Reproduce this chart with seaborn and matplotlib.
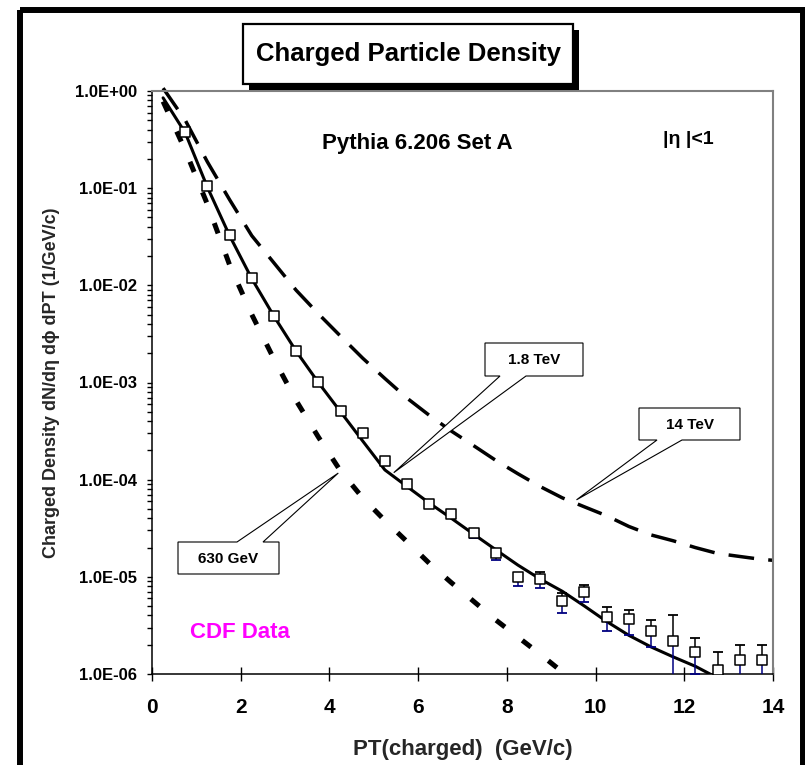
import numpy as np
import matplotlib
matplotlib.use("Agg")
import matplotlib.pyplot as plt
import seaborn as sns
import matplotlib.transforms as mtransforms
from matplotlib.patches import Rectangle, Polygon
from matplotlib.ticker import FuncFormatter, LogLocator, FixedLocator, NullFormatter

# ---------------- data ----------------
pt_data = [0.75, 1.25, 1.75, 2.25, 2.75, 3.25, 3.75, 4.25, 4.75, 5.25, 5.75, 6.25, 6.75,
           7.25, 7.75, 8.25, 8.75, 9.25, 9.75, 10.25, 10.75, 11.25, 11.75, 12.25, 12.75,
           13.25, 13.75]
dens_data = [0.38, 0.105, 0.033, 0.0118, 0.0048, 0.0021, 1.01e-3, 5.1e-4, 3.0e-4, 1.55e-4,
             9.1e-5, 5.6e-5, 4.4e-5, 2.8e-5, 1.75e-5, 1.0e-5, 9.5e-6, 5.6e-6, 7.0e-6,
             3.9e-6, 3.7e-6, 2.8e-6, 2.2e-6, 1.67e-6, 1.1e-6, 1.38e-6, 1.38e-6]
dens_hi = [0.40, 0.11, 0.0345, 0.0123, 0.0050, 0.0022, 1.06e-3, 5.4e-4, 3.15e-4, 1.63e-4,
           9.7e-5, 6.0e-5, 4.7e-5, 3.0e-5, 1.9e-5, 1.08e-5, 1.11e-5, 6.8e-6, 8.3e-6,
           4.9e-6, 4.6e-6, 3.6e-6, 4.0e-6, 2.35e-6, 1.7e-6, 2.0e-6, 2.0e-6]
dens_lo = [0.36, 0.10, 0.0315, 0.0113, 0.0046, 0.0020, 9.6e-4, 4.8e-4, 2.85e-4, 1.47e-4,
           8.5e-5, 5.1e-5, 4.0e-5, 2.5e-5, 1.5e-5, 8.1e-6, 7.7e-6, 4.2e-6, 5.5e-6,
           2.75e-6, 2.5e-6, 1.88e-6, 5e-7, 1.0e-6, 5e-7, 5e-7, 5e-7]

pt_curve = [0.25, 0.75, 1.25, 1.75, 2.25, 2.75, 3.25, 3.75, 4.25, 4.75, 5.25, 5.75, 6.25,
            6.75, 7.25, 7.75, 8.25, 8.75, 9.25, 9.75, 10.25, 10.75, 11.25, 11.75, 12.25,
            12.75, 13.25, 13.75, 14.0]
curve_18tev = [0.85, 0.37, 0.102, 0.0324, 0.0117, 0.0048, 0.0021, 1.0e-3, 5.0e-4, 2.5e-4,
               1.26e-4, 8.5e-5, 5.75e-5, 4.0e-5, 2.75e-5, 1.9e-5, 1.32e-5, 9.5e-6, 7.1e-6,
               5.0e-6, 3.47e-6, 2.5e-6, 1.9e-6, 1.5e-6, 1.2e-6, 9.1e-7]
curve_630gev = [0.78, 0.245, 0.068, 0.0162, 0.0050, 1.74e-3, 6.5e-4, 2.75e-4, 1.23e-4,
                6.5e-5, 3.8e-5, 2.3e-5, 1.38e-5, 8.7e-6, 5.6e-6, 3.6e-6, 2.4e-6, 1.6e-6,
                1.05e-6, 7.1e-7]
curve_14tev = [1.07, 0.50, 0.186, 0.076, 0.0324, 0.017, 8.9e-3, 5.1e-3, 3.0e-3, 1.78e-3,
               1.1e-3, 6.9e-4, 4.6e-4, 3.16e-4, 2.24e-4, 1.58e-4, 1.15e-4, 8.5e-5, 6.5e-5,
               5.25e-5, 4.25e-5, 3.3e-5, 2.7e-5, 2.35e-5, 2.0e-5, 1.74e-5, 1.62e-5, 1.51e-5,
               1.48e-5]

x_ticks = [0, 2, 4, 6, 8, 10, 12, 14]
y_ticks = [1e-6, 1e-5, 1e-4, 1e-3, 1e-2, 1e-1, 1e0]

# ---------------- figure ----------------
sns.set_theme(style="white")
plt.rcParams["font.family"] = ["Liberation Sans", "DejaVu Sans"]
plt.rcParams["font.weight"] = "bold"

W, H = 805, 765
fig = plt.figure(figsize=(W / 100, H / 100), dpi=100, facecolor="white")
L, R, T, B = 152, 773, 91, 674
ax = fig.add_axes([L / W, 1 - B / H, (R - L) / W, (B - T) / H])
ax.set_facecolor("white")
ax.set_yscale("log")
ax.set_xlim(0, 14)
ax.set_ylim(1e-6, 1)

pix = mtransforms.Affine2D().scale(1 / W, -1 / H).translate(0, 1) + fig.transFigure

# model curves
sns.lineplot(x=pt_curve[:len(curve_630gev)], y=curve_630gev, ax=ax, color="black",
             linewidth=3.6, estimator=None, sort=False)
l630 = ax.lines[-1]
l630.set_dashes([2.2, 4.4])
l630.set_dash_capstyle("butt")

sns.lineplot(x=pt_curve, y=curve_14tev, ax=ax, color="black",
             linewidth=2.5, estimator=None, sort=False)
l14 = ax.lines[-1]
l14.set_dashes([7.4, 4.1])
l14.set_dash_capstyle("butt")
l14.set_clip_on(False)

sns.lineplot(x=pt_curve[:len(curve_18tev)], y=curve_18tev, ax=ax, color="black",
             linewidth=2.2, estimator=None, sort=False)

# data error bars: upper black, lower navy
d = np.array(dens_data)
up = np.array(dens_hi) - d
lo = d - np.array(dens_lo)
zero = np.zeros_like(d)
ax.errorbar(pt_data, dens_data, yerr=[zero, up], fmt="none", ecolor="black",
            elinewidth=1.1, capsize=3.3, capthick=1.3, zorder=4)
ax.errorbar(pt_data, dens_data, yerr=[lo, zero], fmt="none", ecolor="#000080",
            elinewidth=1.1, capsize=3.3, capthick=1.3, zorder=4)
sns.scatterplot(x=pt_data, y=dens_data, ax=ax, marker="s", s=52, color="white",
                edgecolor="black", linewidth=1.1, zorder=6)

# axes styling
ax.set_xticks(x_ticks)
ax.yaxis.set_major_locator(FixedLocator(y_ticks))
ax.yaxis.set_minor_locator(LogLocator(base=10, subs=np.arange(2, 10), numticks=20))
ax.yaxis.set_minor_formatter(NullFormatter())
ax.yaxis.set_major_formatter(FuncFormatter(lambda v, p: f"{v:.1E}"))
ax.set_ylim(1e-6, 1)
ax.tick_params(axis="y", which="both", direction="out", length=3.6, width=1.0,
               colors="black", labelsize=12, pad=7, left=True)
ax.tick_params(axis="x", which="major", direction="inout", length=10, width=1.0,
               colors="black", labelsize=15, pad=12, bottom=True)
ax.tick_params(axis="x", which="minor", bottom=False)
for lab in ax.get_xticklabels() + ax.get_yticklabels():
    lab.set_fontweight("bold")

for s in ["top", "right"]:
    ax.spines[s].set_color("#808080")
    ax.spines[s].set_linewidth(1.5)
for s in ["left", "bottom"]:
    ax.spines[s].set_color("black")
    ax.spines[s].set_linewidth(1.1)

ax.set_xlabel("PT(charged)  (GeV/c)", fontsize=16, fontweight="bold", va="center")
ax.xaxis.set_label_coords(0.5, -(750 - B) / (B - T))
ax.set_ylabel("Charged Density dN/dη dϕ dPT (1/GeV/c)", fontsize=13,
              fontweight="bold", va="center")
ax.yaxis.set_label_coords((52 - L) / (R - L), 0.5)

# texts
fig.text(417, 144, "Pythia 6.206 Set A", transform=pix, ha="center", va="center",
         fontsize=16, fontweight="bold", color="black")
fig.text(688, 139, "|η |<1", transform=pix, ha="center", va="center",
         fontsize=14, fontweight="bold", color="black")
fig.text(240, 633, "CDF Data", transform=pix, ha="center", va="center",
         fontsize=16, fontweight="bold", color="#FF00FF")

# title box with shadow
fig.add_artist(Rectangle((249, 30), 330, 60, transform=pix, fc="black", ec="none",
                         zorder=2))
fig.add_artist(Rectangle((243, 24), 330, 60, transform=pix, fc="white", ec="black",
                         lw=1.6, zorder=2.1))
fig.text(408, 54, "Charged Particle Density", transform=pix, ha="center", va="center",
         fontsize=18.5, fontweight="bold", color="black", zorder=3)


# callouts
def callout(box, base, side, tip_xy, label, fs=11):
    bl, bt, br, bb = box
    tip = pix.inverted().transform(ax.transData.transform(tip_xy))
    b1, b2 = base
    if side == "bottom":
        pts = [(bl, bt), (br, bt), (br, bb), (b2, bb), tuple(tip), (b1, bb), (bl, bb)]
    else:
        pts = [(bl, bt), (b1, bt), tuple(tip), (b2, bt), (br, bt), (br, bb), (bl, bb)]
    fig.add_artist(Polygon(pts, closed=True, transform=pix, fc="white", ec="black",
                           lw=0.8, zorder=4))
    fig.text((bl + br) / 2, (bt + bb) / 2 + 1, label, transform=pix, ha="center",
             va="center", fontsize=fs, fontweight="bold", color="black", zorder=5)


callout((485, 343, 583, 376), (500, 526), "bottom", (5.45, 1.18e-4), "1.8 TeV")
callout((639, 408, 740, 440), (657, 682), "bottom", (9.57, 6.2e-5), "14 TeV")
callout((178, 542, 279, 574), (237, 263), "top", (4.20, 1.17e-4), "630 GeV")

# outer thick frame
fig.add_artist(Rectangle((20, 10), 783, 800, transform=pix, fc="none", ec="black",
                         lw=4.3, zorder=10, clip_on=False))

fig.savefig("out.png", dpi=100, facecolor="white")
